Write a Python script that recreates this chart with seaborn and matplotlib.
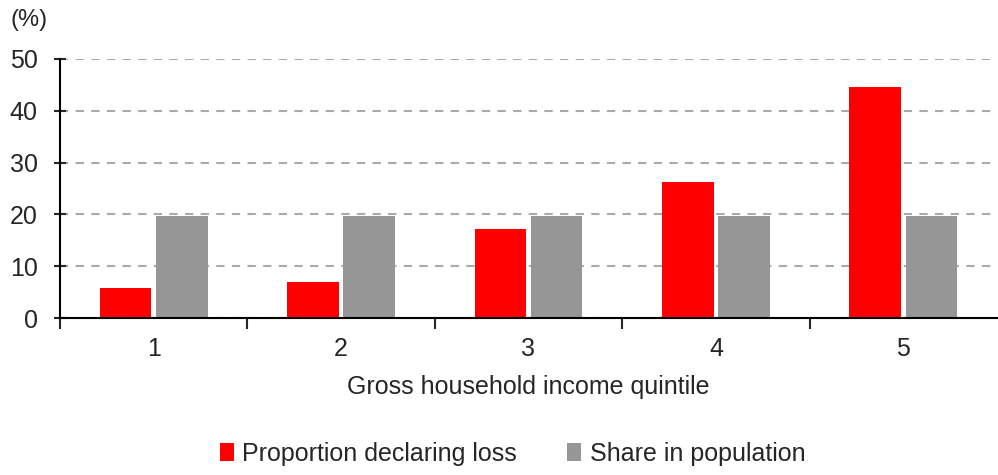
import pandas as pd
import seaborn as sns
import matplotlib.pyplot as plt
from matplotlib.ticker import FixedLocator

quintiles = ['1', '2', '3', '4', '5']
loss = [5.8, 7.0, 17.1, 26.3, 44.5]
share = [19.7, 19.7, 19.7, 19.7, 19.7]
series = ['Proportion declaring loss', 'Share in population']

df = pd.DataFrame({
    'quintile': quintiles * 2,
    'value': loss + share,
    'series': [series[0]] * 5 + [series[1]] * 5,
})

sns.set_style('white')
plt.rcParams['font.family'] = ['Liberation Sans', 'DejaVu Sans']

fig = plt.figure(figsize=(9.98, 4.75), dpi=100)
ax = fig.add_axes([60 / 998, 157 / 475, 937 / 998, 259 / 475])

sns.barplot(data=df, x='quintile', y='value', hue='series',
            palette=['#ff0000', '#969696'], saturation=1, width=0.6,
            gap=0.08, linewidth=0, ax=ax)

ax.set_ylim(0, 50)
ax.set_xlim(-0.5, 4.5)
ax.set_yticks([0, 10, 20, 30, 40, 50])
ax.yaxis.grid(True, linestyle=(0, (4, 3.5)), color='#aaaaaa', linewidth=1.5)
ax.set_axisbelow(True)

for s in ['top', 'right']:
    ax.spines[s].set_visible(False)
for s in ['left', 'bottom']:
    ax.spines[s].set_color('black')
    ax.spines[s].set_linewidth(1.5)

ax.tick_params(axis='y', direction='inout', length=8, width=1.5,
               labelsize=18, pad=12, left=True)
ax.tick_params(axis='x', which='major', length=0, labelsize=18, pad=14)
ax.xaxis.set_minor_locator(FixedLocator([-0.5, 0.5, 1.5, 2.5, 3.5]))
ax.tick_params(axis='x', which='minor', direction='out', length=8,
               width=1.5, bottom=True)

ax.set_xlabel('Gross household income quintile', fontsize=18, labelpad=10)
ax.set_ylabel('')
fig.text(10 / 998, 1 - 20 / 475, '(%)', fontsize=17, va='center')

ax.legend(loc='upper center', bbox_to_anchor=(0.483, -0.39), ncol=2,
          frameon=False, fontsize=18, handlelength=0.55, handleheight=0.7,
          handletextpad=0.35, columnspacing=2.0)

fig.savefig('out.png', dpi=100)
